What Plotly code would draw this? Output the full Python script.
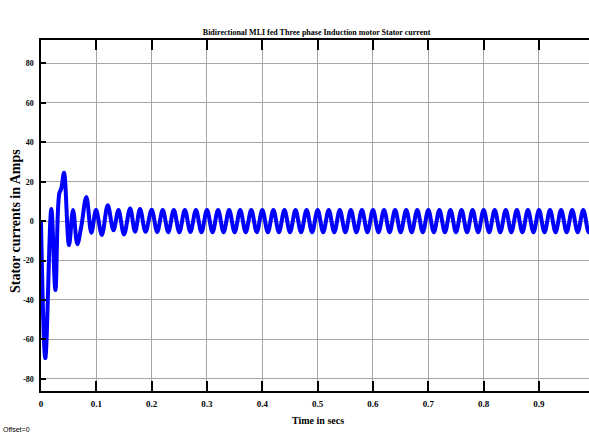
import plotly.graph_objects as go

# Stator current waveform, given as the successive turning points (peaks and troughs)
# of the trace; the line is drawn through them as a smooth spline.
t_start = [0.0, 0.0078, 0.0187, 0.026, 0.033, 0.0367, 0.0416, 0.0506, 0.0579,
           0.0657, 0.0729, 0.082, 0.091, 0.0995, 0.110, 0.1206, 0.131, 0.140,
           0.150, 0.161, 0.170, 0.179, 0.189]
i_start = [0.0, -69.5, 6.2, -35.0, 14.0, 16.6, 24.5, -12.2, 5.6,
           -11.7, -2.5, 12.3, -5.9, 5.6, -7.0, 8.0, -4.6, 5.6,
           -6.8, 6.4, -5.4, 6.1, -5.4]

t_steady = [0.20, 0.21, 0.22, 0.23, 0.24, 0.25, 0.26, 0.27, 0.28, 0.29,
            0.30, 0.31, 0.32, 0.33, 0.34, 0.35, 0.36, 0.37, 0.38, 0.39,
            0.40, 0.41, 0.42, 0.43, 0.44, 0.45, 0.46, 0.47, 0.48, 0.49,
            0.50, 0.51, 0.52, 0.53, 0.54, 0.55, 0.56, 0.57, 0.58, 0.59,
            0.60, 0.61, 0.62, 0.63, 0.64, 0.65, 0.66, 0.67, 0.68, 0.69,
            0.70, 0.71, 0.72, 0.73, 0.74, 0.75, 0.76, 0.77, 0.78, 0.79,
            0.80, 0.81, 0.82, 0.83, 0.84, 0.85, 0.86, 0.87, 0.88, 0.89,
            0.90, 0.91, 0.92, 0.93, 0.94, 0.95, 0.96, 0.97, 0.98, 0.99, 1.00]
i_steady = [5.8, -5.5, 5.7, -5.6, 5.6, -5.6, 5.6, -5.5, 5.6, -5.6,
            5.6, -5.6, 5.6, -5.6, 5.6, -5.6, 5.6, -5.6, 5.6, -5.6,
            5.6, -5.6, 5.6, -5.6, 5.6, -5.6, 5.6, -5.6, 5.6, -5.6,
            5.6, -5.6, 5.6, -5.6, 5.6, -5.6, 5.6, -5.6, 5.6, -5.6,
            5.6, -5.6, 5.6, -5.6, 5.6, -5.6, 5.6, -5.6, 5.6, -5.6,
            5.6, -5.6, 5.6, -5.6, 5.6, -5.6, 5.6, -5.6, 5.6, -5.6,
            5.6, -5.6, 5.6, -5.6, 5.6, -5.6, 5.6, -5.6, 5.6, -5.6,
            5.6, -5.6, 5.6, -5.6, 5.6, -5.6, 5.6, -5.6, 5.6, -5.6, 5.6]

x_ticks = [0, 0.1, 0.2, 0.3, 0.4, 0.5, 0.6, 0.7, 0.8, 0.9]
x_labels = ["0", "0.1", "0.2", "0.3", "0.4", "0.5", "0.6", "0.7", "0.8", "0.9"]
y_ticks = [-80, -60, -40, -20, 0, 20, 40, 60, 80]
y_labels = ["-80", "-60", "-40", "-20", "0", "20", "40", "60", "80"]

title_text = "Bidirectional MLI fed Three phase Induction motor Stator current"
x_title = "Time in secs"
y_title = "Stator currents in Amps"
offset_text = "Offset=0"

SERIF = "Liberation Serif"
GRID = "#a6a6a6"


def bold(labels):
    return ["<b>" + s + "</b>" for s in labels]


fig = go.Figure()
fig.add_trace(go.Scatter(
    x=t_start + t_steady,
    y=i_start + i_steady,
    mode="lines",
    line=dict(color="#0000ff", width=4, shape="spline", smoothing=1.0),
    showlegend=False,
))

fig.update_layout(
    width=589, height=434,
    margin=dict(l=41, r=0, t=40, b=43),
    paper_bgcolor="white", plot_bgcolor="white",
    title=dict(text="<b>" + title_text + "</b>", x=0.5375, xref="container",
               xanchor="center", y=1 - 32 / 434, yref="container", yanchor="middle",
               font=dict(family=SERIF, size=8, color="black")),
    xaxis=dict(range=[0, 0.9904], tickvals=x_ticks, ticktext=bold(x_labels),
               showgrid=True, gridcolor=GRID, gridwidth=1, zeroline=False,
               showline=True, linecolor="black", linewidth=1.5, mirror="ticks",
               ticks="inside", ticklen=10, tickcolor="black", tickwidth=1.5,
               ticklabelstandoff=3,
               tickfont=dict(family=SERIF, size=9, color="black")),
    yaxis=dict(range=[-86.2, 91.9], tickvals=y_ticks, ticktext=bold(y_labels),
               showgrid=True, gridcolor=GRID, gridwidth=1, zeroline=False,
               showline=True, linecolor="black", linewidth=1.5,
               ticks="inside", ticklen=5, tickcolor="black", tickwidth=1.5,
               ticklabelstandoff=4,
               tickfont=dict(family=SERIF, size=8, color="black")),
    annotations=[
        dict(text="<b>" + y_title + "</b>", textangle=-90, xref="paper", yref="paper",
             x=(15 - 41) / 548, y=(391 - 221) / 351, xanchor="center", yanchor="middle",
             showarrow=False, font=dict(family=SERIF, size=14, color="black")),
        dict(text="<b>" + x_title + "</b>", xref="paper", yref="paper",
             x=(318 - 41) / 548, y=(391 - 420) / 351, xanchor="center", yanchor="middle",
             showarrow=False, font=dict(family=SERIF, size=10, color="black")),
        dict(text=offset_text, xref="paper", yref="paper",
             x=(1 - 41) / 548, y=(391 - 429) / 351, xanchor="left", yanchor="middle",
             showarrow=False, font=dict(family="Liberation Sans Narrow, Liberation Sans, Arial, sans-serif",
                                        size=7, color="black")),
    ],
)

fig.write_html("out.html")
